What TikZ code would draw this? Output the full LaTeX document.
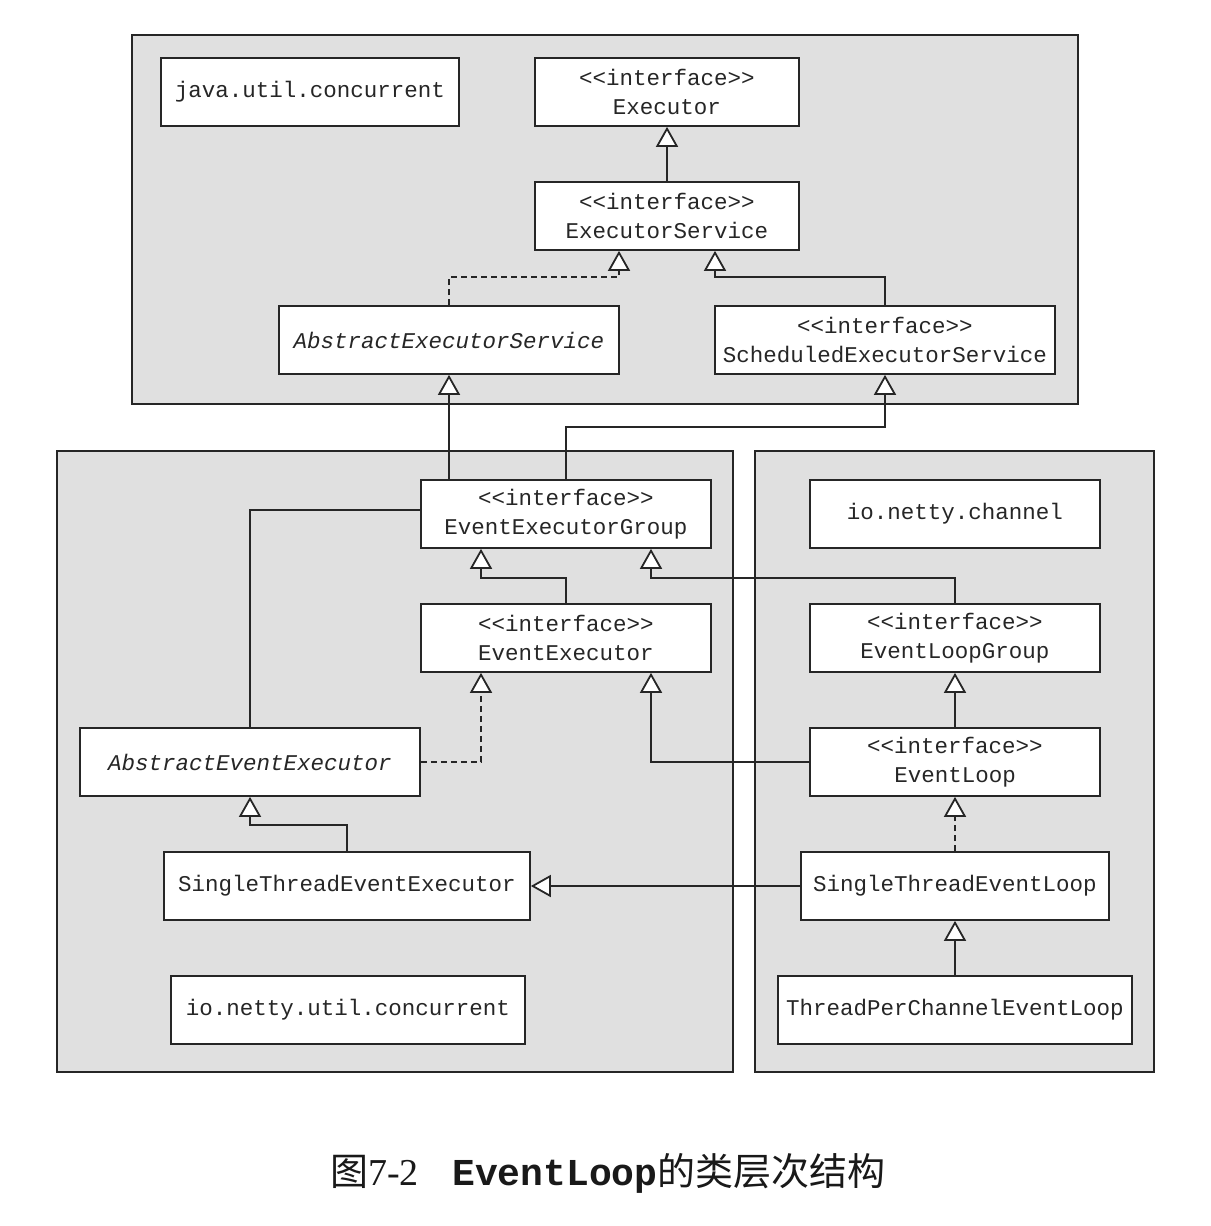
\documentclass[tikz,border=0pt]{standalone}
\usepackage{fontspec}
\setmainfont{Liberation Serif}
\setmonofont{Liberation Mono}
\newfontfamily\cjk{Noto Sans CJK SC}
\usetikzlibrary{arrows.meta}
\begin{document}
\begin{tikzpicture}[x=1pt,y=-1pt,
  pkg/.style={draw=black!85,fill=black!12,line width=1.7pt},
  cls/.style={draw=black!85,fill=white,line width=1.7pt,inner sep=0pt,align=center,
    font=\ttfamily\fontsize{22.5}{29}\selectfont,text=black!85},
  inh/.style={draw=black!85,line width=1.8pt,-{Triangle[width=22pt,length=20pt,fill=white]}},
  plain/.style={draw=black!85,line width=1.8pt},
  dsh/.style={dash pattern=on 6pt off 4pt},
  capt/.style={anchor=base west,inner sep=0pt,text=black!90,font=\fontsize{38}{40}\selectfont}
]
\path[fill=white,use as bounding box] (0,0) rectangle (1210,1226);
% packages
\draw[pkg] (132,35) rectangle (1078,404);
\draw[pkg] (57,451) rectangle (733,1072);
\draw[pkg] (755,451) rectangle (1154,1072);
% classes
\node[cls,minimum width=298pt,minimum height=68pt] (juc) at (310,92) {java.util.concurrent};
\node[cls,minimum width=264pt,minimum height=68pt] (exe) at (667,92) {<{}<interface>{}>\\Executor};
\node[cls,minimum width=264pt,minimum height=68pt] (exs) at (667,216) {<{}<interface>{}>\\ExecutorService};
\node[cls,minimum width=340pt,minimum height=68pt] (aes) at (449,340) {\itshape AbstractExecutorService};
\node[cls,minimum width=340pt,minimum height=68pt] (ses) at (885,340) {<{}<interface>{}>\\ScheduledExecutorService};
\node[cls,minimum width=290pt,minimum height=68pt] (eeg) at (566,514) {<{}<interface>{}>\\EventExecutorGroup};
\node[cls,minimum width=290pt,minimum height=68pt] (inc) at (955,514) {io.netty.channel};
\node[cls,minimum width=290pt,minimum height=68pt] (ee) at (566,638) {<{}<interface>{}>\\EventExecutor};
\node[cls,minimum width=290pt,minimum height=68pt] (elg) at (955,638) {<{}<interface>{}>\\EventLoopGroup};
\node[cls,minimum width=340pt,minimum height=68pt] (aee) at (250,762) {\itshape AbstractEventExecutor};
\node[cls,minimum width=290pt,minimum height=68pt] (el) at (955,762) {<{}<interface>{}>\\EventLoop};
\node[cls,minimum width=366pt,minimum height=68pt] (stee) at (347,886) {SingleThreadEventExecutor};
\node[cls,minimum width=308pt,minimum height=68pt] (stel) at (955,886) {SingleThreadEventLoop};
\node[cls,minimum width=354pt,minimum height=68pt] (iuc) at (348,1010) {io.netty.util.concurrent};
\node[cls,minimum width=354pt,minimum height=68pt] (tpce) at (955,1010) {ThreadPerChannelEventLoop};
% connectors
\draw[inh] (exs.north) -- (exe.south);
\draw[inh,dsh] (aes.north) -- ++(0,-28) -| ([xshift=-48pt]exs.south);
\draw[inh] (ses.north) -- ++(0,-28) -| ([xshift=48pt]exs.south);
\draw[inh] (eeg.north -| aes.south) -- (aes.south);
\draw[inh] (eeg.north) -- ++(0,-52) -| (ses.south);
\draw[plain] (aee.north) |- ([yshift=4pt]eeg.west);
\draw[inh] (ee.north) -- ++(0,-25) -| ([xshift=-85pt]eeg.south);
\draw[inh] (elg.north) -- ++(0,-25) -| ([xshift=85pt]eeg.south);
\draw[inh,dsh] (aee.east) -| ([xshift=-85pt]ee.south);
\draw[inh] (el.west) -| ([xshift=85pt]ee.south);
\draw[inh] (el.north) -- (elg.south);
\draw[inh,dsh] (stel.north) -- (el.south);
\draw[inh] (stee.north) -- ++(0,-26) -| (aee.south);
\draw[inh] (stel.west) -- (stee.east);
\draw[inh] (tpce.north) -- (stel.south);
% caption
\node[capt] (cap1) at (330,1185) {{\cjk 图}7-2};
\node[capt] (cap2) at (452,1185) {{\ttfamily\bfseries EventLoop}{\cjk 的类层次结构}};
\end{tikzpicture}
\end{document}
